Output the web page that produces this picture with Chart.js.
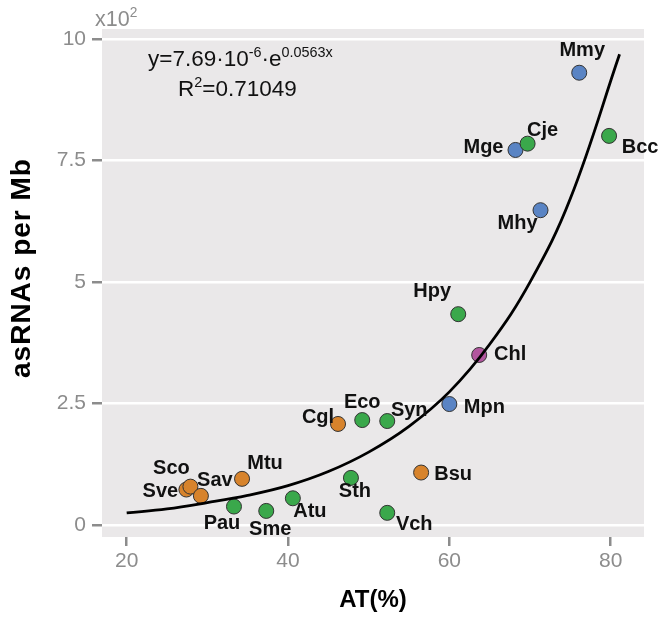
<!DOCTYPE html>
<html>
<head>
<meta charset="utf-8">
<script src="https://cdn.jsdelivr.net/npm/chart.js@4.4.1/dist/chart.umd.min.js"></script>
<style>
  html, body { margin: 0; padding: 0; background: #fff; }
  #wrap { width: 663px; height: 621px; }
</style>
</head>
<body>
<div id="wrap"><canvas id="myChart" width="663" height="621"></canvas></div>
<script>
// organisms, AT content (%) and asRNAs per Mb (x10^2)
const names = ['Sve','Sco','Sav','Mtu','Cgl','Bsu',
               'Pau','Sme','Atu','Sth','Vch','Eco','Syn','Hpy','Bcc','Cje',
               'Mge','Mhy','Mpn','Mmy',
               'Chl'];
const atValues = [27.4, 27.9, 29.2, 34.3, 46.2, 56.5,
                  33.3, 37.3, 40.6, 47.8, 52.3, 49.2, 52.3, 61.1, 79.8, 69.7,
                  68.2, 71.3, 60.0, 76.1,
                  63.7];
const asrnaValues = [0.73, 0.79, 0.60, 0.95, 2.08, 1.08,
                     0.38, 0.29, 0.55, 0.97, 0.25, 2.16, 2.14, 4.34, 8.01, 7.85,
                     7.72, 6.48, 2.49, 9.31,
                     3.50];
const groups = ['orange','orange','orange','orange','orange','orange',
                'green','green','green','green','green','green','green','green','green','green',
                'blue','blue','blue','blue',
                'pink'];

// exponential fit curve
const fitX = [20, 25, 30, 35, 40, 45, 50, 55, 60, 65, 70, 75, 81.1];
const fitY = [0.25, 0.33, 0.46, 0.61, 0.81, 1.10, 1.50, 2.03, 2.74, 3.72, 5.0, 6.72, 9.69];

const xTicks = [20, 40, 60, 80];
const yTicks = [0, 2.5, 5, 7.5, 10];

const groupColors = {
  orange: 'rgb(215,131,44)',
  green: 'rgb(58,168,75)',
  blue: 'rgb(90,132,196)',
  pink: 'rgb(178,86,158)'
};
// drawing order: lower = on top
const groupOrder = { green: 1, blue: 2, orange: 3, pink: 4 };

// where each label sits relative to its point (px, text centre)
const labelOffsets = {
  Mmy: [3, -22], Cje: [15, -13], Mge: [-32, -2], Bcc: [31, 12],
  Mhy: [-23, 13], Hpy: [-26, -23], Chl: [31, 0], Mpn: [35, 3],
  Syn: [22, -11], Eco: [0, -18], Cgl: [-20, -6], Sth: [4, 14],
  Bsu: [32, 2], Vch: [27, 12], Atu: [17, 13], Sme: [4, 19],
  Pau: [-12, 17], Mtu: [23, -15], Sav: [14, -15], Sco: [-19, -18],
  Sve: [-26, 2]
};

const FONT = "'Liberation Sans', Arial, Helvetica, sans-serif";

function buildDatasets(){
  var sets = [];
  ['green','blue','orange','pink'].forEach(function(g){
    var pts = [];
    for (var i = 0; i < names.length; i++) {
      if (groups[i] === g) pts.push({x: atValues[i], y: asrnaValues[i], name: names[i]});
    }
    sets.push({
      type: 'scatter',
      label: g,
      data: pts,
      backgroundColor: groupColors[g],
      borderColor: '#333333',
      borderWidth: 1,
      pointRadius: 7.5,
      pointHoverRadius: 7.5,
      order: groupOrder[g]
    });
  });
  var curve = fitX.map(function(x, i){ return {x: x, y: fitY[i]}; });
  sets.push({
    type: 'line',
    label: 'fit',
    data: curve,
    borderColor: '#000',
    borderWidth: 2.8,
    pointRadius: 0,
    fill: false,
    tension: 0.4,
    order: 0
  });
  return sets;
}

const panelPlugin = {
  id: 'panel',
  beforeDraw: function(chart){
    var a = chart.chartArea, ctx = chart.ctx;
    ctx.save();
    ctx.fillStyle = 'rgb(234,232,233)';
    ctx.fillRect(a.left, a.top, a.right - a.left, a.bottom - a.top);
    ctx.restore();
  }
};

function drawParts(ctx, parts, x, y, size){
  parts.forEach(function(p){
    var s = p[1] ? size * 0.64 : size;
    ctx.font = s + 'px ' + FONT;
    var yy = p[1] ? y - size * 0.42 : y;
    ctx.fillText(p[0], x, yy);
    x += ctx.measureText(p[0]).width;
  });
}

const textPlugin = {
  id: 'texts',
  afterDatasetsDraw: function(chart){
    var ctx = chart.ctx;
    var xs = chart.scales.x, ys = chart.scales.y;
    ctx.save();
    ctx.fillStyle = '#111';
    ctx.font = 'bold 20px ' + FONT;
    ctx.textAlign = 'center';
    ctx.textBaseline = 'middle';
    for (var i = 0; i < names.length; i++) {
      var off = labelOffsets[names[i]] || [0, -15];
      ctx.fillText(names[i], xs.getPixelForValue(atValues[i]) + off[0], ys.getPixelForValue(asrnaValues[i]) + off[1]);
    }
    // equation
    ctx.textAlign = 'left';
    ctx.textBaseline = 'alphabetic';
    ctx.fillStyle = '#111';
    drawParts(ctx, [['y=7.69·10', false], ['-6', true], ['·e', false], ['0.0563x', true]], 148, 66, 22.5);
    drawParts(ctx, [['R', false], ['2', true], ['=0.71049', false]], 178, 96, 22.5);
    // axis multiplier
    ctx.fillStyle = '#8c8c8c';
    drawParts(ctx, [['x10', false], ['2', true]], 95, 26, 21.5);
    // y axis title
    ctx.fillStyle = '#000';
    ctx.translate(22, 268);
    ctx.rotate(-Math.PI / 2);
    ctx.textAlign = 'center';
    ctx.textBaseline = 'middle';
    ctx.font = 'bold 28px ' + FONT;
    if ('letterSpacing' in ctx) ctx.letterSpacing = '1px';
    ctx.fillText('asRNAs per Mb', 0, 0);
    ctx.restore();
  }
};

function drawChart(){
  const config = {
    type: 'scatter',
    data: { datasets: buildDatasets() },
    options: {
      responsive: false,
      animation: false,
      layout: { padding: { top: 29, right: 19, left: 0, bottom: 0 } },
      plugins: { legend: { display: false }, tooltip: { enabled: false } },
      scales: {
        x: {
          type: 'linear',
          min: 16.94,
          max: 84.13,
          afterBuildTicks: function(scale){ scale.ticks = xTicks.map(function(v){ return {value: v}; }); },
          afterFit: function(scale){ scale.height = 84; },
          grid: { drawOnChartArea: false, drawTicks: true, tickLength: 9, tickColor: '#8c8c8c', lineWidth: 2.5 },
          border: { display: false },
          ticks: { color: '#8c8c8c', font: { family: FONT, size: 21 }, padding: 3, callback: function(v){ return String(v); } },
          title: { display: true, text: 'AT(%)', color: '#000', font: { family: FONT, size: 24, weight: 'bold' }, padding: { top: 0, bottom: 6 } }
        },
        y: {
          type: 'linear',
          min: -0.247,
          max: 10.21,
          afterBuildTicks: function(scale){ scale.ticks = yTicks.map(function(v){ return {value: v}; }); },
          afterFit: function(scale){ scale.width = 102; },
          grid: { color: '#ffffff', lineWidth: 2.5, drawTicks: true, tickLength: 10, tickColor: '#8c8c8c' },
          border: { display: false },
          ticks: { color: '#8c8c8c', font: { family: FONT, size: 21 }, padding: 6, callback: function(v){ return String(v); } },
          title: { display: false }
        }
      }
    },
    plugins: [panelPlugin, textPlugin]
  };
  var myChart = new Chart(document.getElementById('myChart'), config);
}

drawChart();
</script>
</body>
</html>
